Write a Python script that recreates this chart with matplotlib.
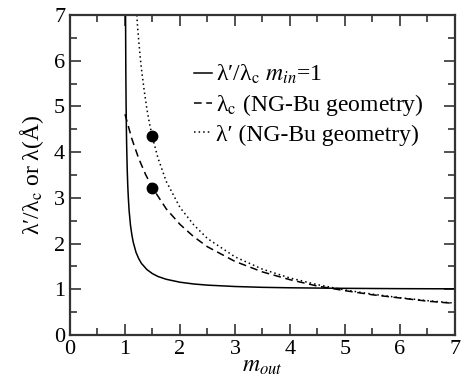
import matplotlib
matplotlib.use("Agg")
import matplotlib.pyplot as plt
from matplotlib.ticker import MultipleLocator

plt.rcParams['font.family'] = ['Liberation Serif', 'DejaVu Serif']
plt.rcParams['mathtext.fontset'] = 'stix'

# solid: lambda'/lambda_c, m_in = 1
m_solid = [1.0102, 1.015, 1.02, 1.025, 1.03, 1.04, 1.05, 1.06, 1.075, 1.1, 1.125, 1.15, 1.2, 1.25,
           1.3, 1.4, 1.5, 1.6, 1.75, 2.0, 2.25, 2.5, 3.0, 3.5, 4.0, 5.0, 6.0, 7.0]
v_solid = [7.0, 5.8, 5.07, 4.54, 4.17, 3.64, 3.28, 3.02, 2.72, 2.40, 2.19, 2.03, 1.81, 1.67,
           1.565, 1.43, 1.342, 1.28, 1.219, 1.155, 1.116, 1.091, 1.061, 1.043, 1.033, 1.021, 1.014, 1.010]

# dashed: lambda_c (NG-Bu geometry)
m_dash = [1.0, 1.125, 1.25, 1.375, 1.5, 1.75, 2.0, 2.25, 2.5, 3.0, 3.5, 4.0, 4.5, 5.0, 5.5, 6.0, 6.5, 7.0]
v_dash = [4.83, 4.29, 3.86, 3.51, 3.22, 2.76, 2.42, 2.15, 1.93, 1.61, 1.38, 1.21, 1.07, 0.97, 0.88, 0.81, 0.74, 0.69]

# dotted: lambda' (NG-Bu geometry)
m_dot = [1.215, 1.23, 1.25, 1.275, 1.3, 1.35, 1.4, 1.45, 1.5, 1.6, 1.75, 2.0, 2.25, 2.5, 3.0, 3.5,
         4.0, 4.5, 5.0, 5.5, 6.0, 6.5, 7.0]
v_dot = [7.0, 6.72, 6.44, 6.10, 5.81, 5.34, 4.93, 4.60, 4.32, 3.87, 3.36, 2.79, 2.41, 2.11, 1.71, 1.44,
         1.247, 1.101, 0.986, 0.893, 0.816, 0.752, 0.697]

# measured points
m_pts = [1.5, 1.5]
v_pts = [4.35, 3.22]

xticks = [0, 1, 2, 3, 4, 5, 6, 7]
yticks = [0, 1, 2, 3, 4, 5, 6, 7]

fig = plt.figure(figsize=(4.62, 3.91), dpi=100)
ax = fig.add_axes([0.1515, 0.1432, 0.8333, 0.8184])

ax.plot(m_solid, v_solid, color='black', lw=1.1, ls='-', label="λ\u2032/λ$_{\\rm c}$ $m_{in}$=1")
ax.plot(m_dash, v_dash, color='black', lw=1.1, ls=(0, (5, 3)), label="λ$_{\\rm c}$ (NG-Bu geometry)")
ax.plot(m_dot, v_dot, color='black', lw=1.1, ls=(0, (1, 2)), label="λ\u2032 (NG-Bu geometry)")
ax.plot(m_pts, v_pts, 'o', color='black', ms=7.5)

ax.set_xlim(0, 7)
ax.set_ylim(0, 7)
ax.set_xticks(xticks)
ax.set_yticks(yticks)
ax.xaxis.set_minor_locator(MultipleLocator(0.5))
ax.yaxis.set_minor_locator(MultipleLocator(0.5))
ax.tick_params(which='both', direction='in', top=True, right=True, labelsize=16, color='#333333')
ax.tick_params(which='major', length=8, width=1.2)
ax.tick_params(which='minor', length=5, width=1.2)
for s in ax.spines.values():
    s.set_linewidth(1.6)
    s.set_color('#333333')

ax.set_xlabel("$m_{out}$", fontsize=17, labelpad=-2)
ax.set_ylabel("λ\u2032/λ$_{\\rm c}$ or λ(Å)", fontsize=17, labelpad=6)

leg = ax.legend(loc='upper left', bbox_to_anchor=(0.322, 0.85), frameon=False, fontsize=17,
                handlelength=0.75, handletextpad=0.2, labelspacing=0.25, borderaxespad=0,
                borderpad=0)

fig.savefig("out.png", dpi=100)
